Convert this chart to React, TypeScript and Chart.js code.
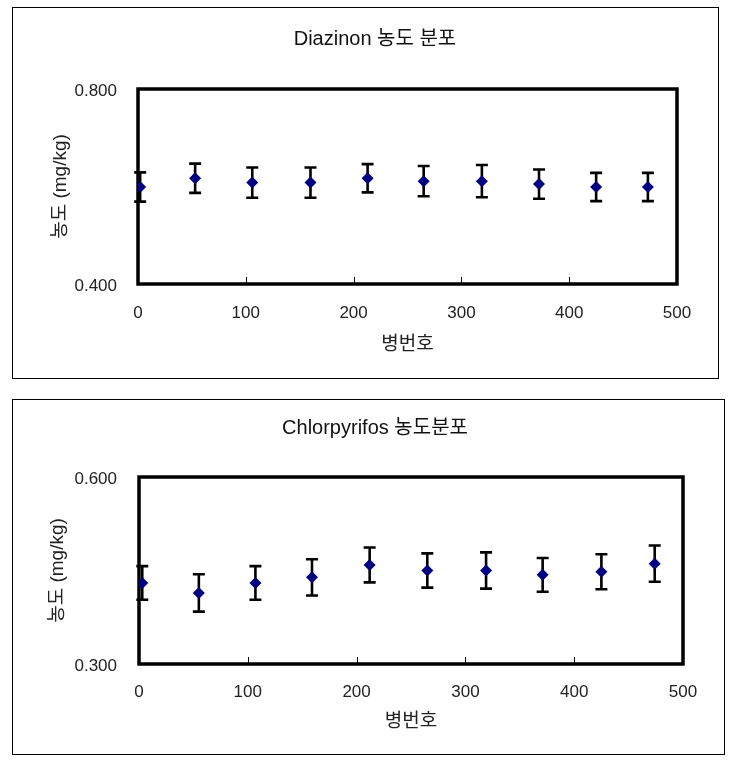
import React, { useEffect, useRef } from "react";
import { Chart, registerables } from "chart.js";

Chart.register(...registerables);

// ---- Data ----
const xTickValues = [0, 100, 200, 300, 400, 500];

const diazinonBottle = [2, 53, 106, 160, 213, 265, 319, 372, 425, 473];
const diazinonConc = [0.599, 0.617, 0.608, 0.608, 0.617, 0.611, 0.611, 0.605, 0.599, 0.599];
const diazinonErr = [0.030, 0.030, 0.031, 0.031, 0.029, 0.031, 0.033, 0.030, 0.029, 0.029];
const diazinonYTicks = [0.4, 0.8];

const chlorBottle = [3, 55, 107, 159, 212, 265, 319, 371, 425, 474];
const chlorConc = [0.430, 0.414, 0.430, 0.439, 0.459, 0.450, 0.450, 0.443, 0.448, 0.461];
const chlorErr = [0.027, 0.030, 0.027, 0.029, 0.028, 0.0275, 0.029, 0.027, 0.028, 0.029];
const chlorYTicks = [0.3, 0.6];

const FONT = '"Liberation Sans", "Noto Sans CJK KR", sans-serif';

const framePlugin = {
  id: "frameErr",
  beforeDatasetsDraw(chart: any, _args: any, opts: any) {
    const { ctx, chartArea, scales } = chart;
    const x = scales.x;
    const y = scales.y;
    ctx.save();
    // inner x tick marks
    ctx.strokeStyle = "#000";
    ctx.lineWidth = 1;
    x.ticks.forEach((t: any) => {
      if (t.value <= x.min || t.value >= x.max) return;
      const px = Math.round(x.getPixelForValue(t.value)) + 0.5;
      ctx.beginPath();
      ctx.moveTo(px, chartArea.bottom);
      ctx.lineTo(px, chartArea.bottom - 7);
      ctx.stroke();
    });
    // frame
    ctx.lineWidth = 3.5;
    ctx.strokeRect(chartArea.left, chartArea.top, chartArea.right - chartArea.left, chartArea.bottom - chartArea.top);
    // error bars
    const errs: number[] = opts.errors || [];
    const data = chart.data.datasets[0].data;
    ctx.lineWidth = 2.6;
    data.forEach((p: any, i: number) => {
      const px = x.getPixelForValue(p.x);
      const top = y.getPixelForValue(p.y + errs[i]);
      const bot = y.getPixelForValue(p.y - errs[i]);
      const cap = 6;
      ctx.beginPath();
      ctx.moveTo(px, top);
      ctx.lineTo(px, bot);
      ctx.moveTo(px - cap, top);
      ctx.lineTo(px + cap, top);
      ctx.moveTo(px - cap, bot);
      ctx.lineTo(px + cap, bot);
      ctx.stroke();
    });
    ctx.restore();
  },
};

type Params = {
  title: string;
  xs: number[];
  ys: number[];
  errs: number[];
  yTicks: number[];
  titlePad: { top: number; bottom: number };
  leftPad: number;
  rightPad: number;
  yWidth: number;
  xHeight: number;
  yTickPad: number;
  xTickPad: number;
  yTitlePad: number;
  xTitlePad: number;
};

function makeConfig(p: Params): any {
  return {
    type: "scatter",
    data: {
      datasets: [
        {
          data: p.xs.map((x, i) => ({ x, y: p.ys[i] })),
          pointStyle: "rectRot",
          pointRadius: 6,
          backgroundColor: "#000080",
          borderColor: "#000080",
          borderWidth: 0,
          showLine: false,
        },
      ],
    },
    options: {
      responsive: false,
      animation: false,
      events: [],
      layout: { padding: { left: p.leftPad, top: 0, bottom: 0, right: p.rightPad } },
      plugins: {
        legend: { display: false },
        tooltip: { enabled: false },
        title: {
          display: true,
          text: p.title,
          color: "#111",
          font: { family: FONT, size: 20, weight: "normal" },
          padding: p.titlePad,
        },
        frameErr: { errors: p.errs },
      },
      scales: {
        x: {
          type: "linear",
          min: xTickValues[0],
          max: xTickValues[xTickValues.length - 1],
          afterBuildTicks: (s: any) => {
            s.ticks = xTickValues.map((v) => ({ value: v }));
          },
          ticks: {
            padding: p.xTickPad,
            color: "#222",
            font: { family: FONT, size: 17 },
            maxRotation: 0,
            callback: (v: any) => String(v),
          },
          grid: { display: false, drawTicks: false },
          border: { display: false },
          title: {
            display: true,
            text: "병번호",
            color: "#222",
            font: { family: FONT, size: 19 },
            padding: { top: 0, bottom: p.xTitlePad },
          },
          afterFit: (s: any) => {
            s.height = p.xHeight;
          },
        },
        y: {
          type: "linear",
          min: p.yTicks[0],
          max: p.yTicks[p.yTicks.length - 1],
          afterBuildTicks: (s: any) => {
            s.ticks = p.yTicks.map((v) => ({ value: v }));
          },
          ticks: {
            padding: p.yTickPad,
            labelOffset: 2,
            color: "#222",
            font: { family: FONT, size: 17 },
            callback: (v: any) => Number(v).toFixed(3),
          },
          grid: { display: false, drawTicks: false },
          border: { display: false },
          title: {
            display: true,
            text: "농도 (mg/kg)",
            color: "#222",
            font: { family: FONT, size: 19 },
            padding: { top: p.yTitlePad, bottom: 0 },
          },
          afterFit: (s: any) => {
            s.width = p.yWidth;
          },
        },
      },
    },
    plugins: [framePlugin],
  };
}

function ChartCanvas({ params, left, top, width, height }: { params: Params; left: number; top: number; width: number; height: number }) {
  const ref = useRef<HTMLCanvasElement | null>(null);
  useEffect(() => {
    if (!ref.current) return;
    const chart = new Chart(ref.current, makeConfig(params));
    return () => chart.destroy();
  }, []);
  return (
    <canvas
      ref={ref}
      width={width}
      height={height}
      style={{ position: "absolute", left, top, width, height }}
    />
  );
}

export default function App() {
  const top: Params = {
    title: "Diazinon 농도 분포",
    xs: diazinonBottle,
    ys: diazinonConc,
    errs: diazinonErr,
    yTicks: diazinonYTicks,
    titlePad: { top: 19, bottom: 38 },
    leftPad: 42,
    rightPad: 42,
    yWidth: 65,
    xHeight: 94,
    yTickPad: 21,
    xTickPad: 19,
    yTitlePad: -24,
    xTitlePad: 22,
  };
  const bottom: Params = {
    title: "Chlorpyrifos 농도분포",
    xs: chlorBottle,
    ys: chlorConc,
    errs: chlorErr,
    yTicks: chlorYTicks,
    titlePad: { top: 16, bottom: 37 },
    leftPad: 37,
    rightPad: 37,
    yWidth: 72,
    xHeight: 90,
    yTickPad: 22,
    xTickPad: 18,
    yTitlePad: -21,
    xTitlePad: 21,
  };
  return (
    <div style={{ position: "absolute", left: 0, top: 0, width: 734, height: 766, background: "#fff" }}>
      <div style={{ position: "absolute", left: 12, top: 7, width: 705, height: 370, border: "1px solid #000" }} />
      <div style={{ position: "absolute", left: 12, top: 399, width: 711, height: 354, border: "1px solid #000" }} />
      <ChartCanvas params={top} left={31} top={8} width={688} height={370} />
      <ChartCanvas params={bottom} left={30} top={400} width={690} height={354} />
    </div>
  );
}
